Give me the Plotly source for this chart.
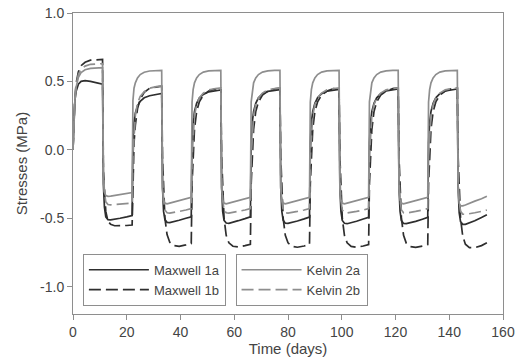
import plotly.graph_objects as go

# Loading alternates every 11 days; each half-cycle is sampled at these offsets (days)
half_cycle_days = 11
sample_offsets = [0.3, 0.7, 1.2, 2, 3, 4.5, 6.5, 9, 11]

# Stresses (MPa), one row per half-cycle (positive, negative, positive, ...)
maxwell_1a = [
    [0.22, 0.36, 0.43, 0.48, 0.50, 0.505, 0.50, 0.49, 0.48],
    [-0.25, -0.42, -0.49, -0.51, -0.512, -0.508, -0.50, -0.49, -0.48],
    [0.05, 0.20, 0.27, 0.32, 0.355, 0.38, 0.395, 0.405, 0.412],
    [-0.27, -0.45, -0.51, -0.53, -0.532, -0.527, -0.515, -0.50, -0.49],
    [0.05, 0.20, 0.28, 0.34, 0.378, 0.405, 0.424, 0.433, 0.438],
    [-0.27, -0.45, -0.515, -0.535, -0.537, -0.53, -0.518, -0.503, -0.49],
    [0.05, 0.20, 0.28, 0.34, 0.38, 0.408, 0.427, 0.436, 0.44],
    [-0.27, -0.45, -0.515, -0.536, -0.538, -0.532, -0.52, -0.505, -0.492],
    [0.05, 0.20, 0.28, 0.34, 0.38, 0.41, 0.428, 0.437, 0.442],
    [-0.27, -0.45, -0.516, -0.537, -0.54, -0.534, -0.522, -0.506, -0.493],
    [0.05, 0.20, 0.28, 0.34, 0.38, 0.41, 0.43, 0.44, 0.445],
    [-0.27, -0.45, -0.517, -0.538, -0.54, -0.535, -0.523, -0.507, -0.494],
    [0.05, 0.20, 0.28, 0.34, 0.38, 0.41, 0.43, 0.44, 0.445],
    [-0.27, -0.46, -0.525, -0.545, -0.545, -0.535, -0.518, -0.495, -0.475],
]

maxwell_1b = [
    [0.20, 0.38, 0.49, 0.57, 0.615, 0.64, 0.655, 0.66, 0.66],
    [-0.15, -0.33, -0.45, -0.52, -0.545, -0.555, -0.556, -0.553, -0.55],
    [-0.15, 0.05, 0.18, 0.30, 0.37, 0.42, 0.45, 0.46, 0.465],
    [-0.05, -0.30, -0.50, -0.62, -0.675, -0.70, -0.705, -0.695, -0.685],
    [-0.25, -0.02, 0.15, 0.28, 0.35, 0.40, 0.43, 0.445, 0.45],
    [-0.05, -0.30, -0.50, -0.625, -0.68, -0.705, -0.71, -0.70, -0.69],
    [-0.25, -0.02, 0.15, 0.28, 0.35, 0.40, 0.43, 0.445, 0.45],
    [-0.05, -0.30, -0.50, -0.625, -0.68, -0.705, -0.712, -0.703, -0.692],
    [-0.25, -0.02, 0.15, 0.28, 0.35, 0.40, 0.43, 0.447, 0.452],
    [-0.05, -0.30, -0.50, -0.625, -0.68, -0.706, -0.712, -0.703, -0.692],
    [-0.25, -0.02, 0.15, 0.28, 0.35, 0.40, 0.43, 0.447, 0.452],
    [-0.05, -0.30, -0.50, -0.625, -0.682, -0.707, -0.713, -0.704, -0.692],
    [-0.25, -0.02, 0.15, 0.28, 0.35, 0.40, 0.43, 0.447, 0.452],
    [-0.05, -0.30, -0.50, -0.63, -0.69, -0.715, -0.715, -0.70, -0.68],
]

kelvin_2a = [
    [0.20, 0.36, 0.46, 0.53, 0.565, 0.585, 0.595, 0.60, 0.60],
    [-0.22, -0.31, -0.335, -0.34, -0.338, -0.333, -0.327, -0.32, -0.312],
    [0.36, 0.45, 0.49, 0.525, 0.55, 0.567, 0.576, 0.58, 0.58],
    [-0.28, -0.37, -0.39, -0.395, -0.39, -0.383, -0.372, -0.36, -0.348],
    [0.35, 0.44, 0.49, 0.525, 0.55, 0.568, 0.577, 0.58, 0.58],
    [-0.28, -0.37, -0.39, -0.395, -0.39, -0.383, -0.372, -0.36, -0.348],
    [0.35, 0.44, 0.49, 0.525, 0.55, 0.568, 0.577, 0.58, 0.58],
    [-0.28, -0.37, -0.39, -0.395, -0.39, -0.383, -0.372, -0.36, -0.348],
    [0.35, 0.44, 0.49, 0.525, 0.55, 0.568, 0.577, 0.58, 0.58],
    [-0.28, -0.37, -0.39, -0.395, -0.39, -0.383, -0.372, -0.36, -0.348],
    [0.35, 0.44, 0.49, 0.525, 0.55, 0.568, 0.577, 0.58, 0.58],
    [-0.28, -0.37, -0.39, -0.395, -0.39, -0.383, -0.372, -0.36, -0.348],
    [0.35, 0.44, 0.49, 0.525, 0.55, 0.568, 0.577, 0.58, 0.58],
    [-0.30, -0.39, -0.41, -0.41, -0.403, -0.39, -0.375, -0.358, -0.34],
]

kelvin_2b = [
    [0.20, 0.38, 0.48, 0.55, 0.59, 0.612, 0.625, 0.63, 0.63],
    [-0.15, -0.31, -0.38, -0.40, -0.402, -0.40, -0.397, -0.393, -0.39],
    [-0.05, 0.12, 0.25, 0.34, 0.39, 0.425, 0.45, 0.462, 0.468],
    [-0.20, -0.37, -0.44, -0.46, -0.462, -0.458, -0.45, -0.44, -0.43],
    [-0.05, 0.12, 0.25, 0.33, 0.38, 0.415, 0.438, 0.448, 0.452],
    [-0.20, -0.37, -0.44, -0.46, -0.462, -0.458, -0.45, -0.44, -0.43],
    [-0.05, 0.12, 0.25, 0.33, 0.38, 0.415, 0.438, 0.448, 0.452],
    [-0.20, -0.37, -0.44, -0.46, -0.462, -0.458, -0.45, -0.44, -0.43],
    [-0.05, 0.12, 0.25, 0.33, 0.38, 0.415, 0.438, 0.448, 0.452],
    [-0.20, -0.37, -0.44, -0.46, -0.462, -0.458, -0.45, -0.44, -0.43],
    [-0.05, 0.12, 0.25, 0.33, 0.38, 0.415, 0.438, 0.448, 0.452],
    [-0.20, -0.37, -0.44, -0.46, -0.462, -0.458, -0.45, -0.44, -0.43],
    [-0.05, 0.12, 0.25, 0.33, 0.38, 0.415, 0.438, 0.448, 0.452],
    [-0.20, -0.38, -0.45, -0.47, -0.472, -0.468, -0.46, -0.45, -0.44],
]

y_tick_values = [-1.0, -0.5, 0.0, 0.5, 1.0]
y_tick_labels = ["-1.0", "-0.5", "0.0", "0.5", "1.0"]


def build_series(rows):
    """Join the half-cycles into one time/stress series starting from zero."""
    t, s = [0.0], [0.0]
    for k, row in enumerate(rows):
        for offset, value in zip(sample_offsets, row):
            t.append(k * half_cycle_days + offset)
            s.append(value)
    return t, s


DARK = "#2e2e2e"
GREY = "#8e8e8e"
FONT = "Liberation Sans"

series = [
    ("Maxwell 1a", maxwell_1a, DARK, "solid", "legend"),
    ("Maxwell 1b", maxwell_1b, DARK, "12px,5px", "legend"),
    ("Kelvin 2a", kelvin_2a, GREY, "solid", "legend2"),
    ("Kelvin 2b", kelvin_2b, GREY, "12px,5px", "legend2"),
]

fig = go.Figure()
for name, rows, color, dash, legend in series:
    t, s = build_series(rows)
    fig.add_trace(go.Scatter(
        x=t, y=s, mode="lines", name=name, legend=legend,
        line=dict(color=color, width=1.7, dash=dash),
    ))

legend_style = dict(
    bgcolor="white", bordercolor=GREY, borderwidth=1,
    font=dict(family=FONT, size=13, color="#444444"),
    xanchor="left", yanchor="top", y=0.2,
    itemwidth=60, tracegroupgap=0,
)

fig.update_layout(
    width=518, height=360,
    margin=dict(l=73, r=15, t=13, b=46),
    paper_bgcolor="white", plot_bgcolor="white",
    font=dict(family=FONT, size=14, color="#444444"),
    legend=dict(x=0.023, **legend_style),
    legend2=dict(x=0.378, **legend_style),
    xaxis=dict(
        range=[0, 160], tick0=0, dtick=20, automargin=False,
        ticks="outside", ticklen=5, tickcolor=GREY,
        showline=True, linecolor=GREY, linewidth=1, mirror=True,
        showgrid=False, zeroline=False,
        title=dict(text="Time (days)", standoff=4, font=dict(size=15)),
    ),
    yaxis=dict(
        range=[-1.2, 1.0], tickvals=y_tick_values, ticktext=y_tick_labels,
        automargin=False,
        ticks="outside", ticklen=5, tickcolor=GREY,
        showline=True, linecolor=GREY, linewidth=1, mirror=True,
        showgrid=False, zeroline=False,
        title=dict(text="Stresses (MPa)", standoff=8, font=dict(size=15)),
    ),
)

fig.write_html("out.html")
